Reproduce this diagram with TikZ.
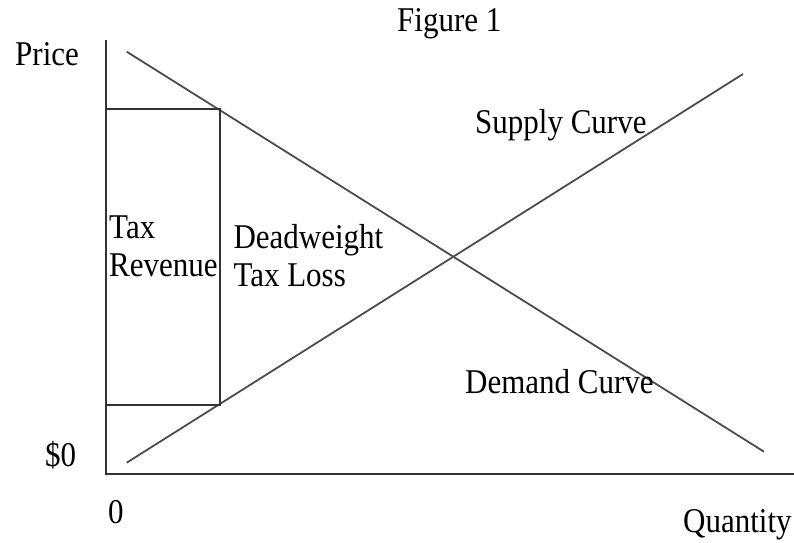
\documentclass[tikz,border=0pt]{standalone}
\usepackage{fontspec}
\setmainfont{Liberation Serif}
\usepackage{graphicx}
\usetikzlibrary{positioning}

\newcommand{\tall}[1]{\scalebox{1}[1.12]{#1}}

\begin{document}
\begin{tikzpicture}[
  x=1pt, y=-1pt,
  font=\fontsize{31}{38}\selectfont,
  lbl/.style={inner sep=0pt, anchor=base west},
  axis/.style={line width=2pt, black!80},
  curve/.style={line width=1.8pt, black!70},
  taxbox/.style={line width=1.9pt, black!80}
]
\useasboundingbox (0,0) rectangle (794,542);

% axes
\coordinate (origin) at (106,474);
\coordinate (ytop) at (106,40);
\coordinate (xend) at (794,474);
\draw[axis] (ytop) -- (origin) -- (xend);

% demand and supply
\coordinate (dem0) at (126.7,51.7);
\coordinate (dem1) at (764,451.7);
\coordinate (sup0) at (126.7,462.7);
\coordinate (sup1) at (743,74);
\draw[curve] (dem0) -- (dem1);
\draw[curve] (sup0) -- (sup1);

% tax revenue box
\coordinate (boxtl) at (106,108.7);
\coordinate (boxbr) at (220,404.7);
\draw[taxbox] (boxtl) rectangle (boxbr);

% labels
\node[lbl] (title) at (397,31.7) {\tall{Figure 1}};
\node[lbl] (price) at (15,65) {\tall{Price}};
\node[lbl] (zero) at (45,466.7) {\tall{\$0}};
\node[lbl] (qzero) at (108,523) {\tall{0}};
\node[lbl] (qty) at (683,532) {\tall{Quantity}};
\node[lbl] (supply) at (475,133.3) {\tall{Supply Curve}};
\node[lbl] (demand) at (465,393.3) {\tall{Demand Curve}};
\node[lbl, align=left] (revenue) at (109,276) {\tall{Tax}\\\tall{Revenue}};
\node[lbl, align=left] (dwl) at (233.3,286.3) {\tall{Deadweight}\\\tall{Tax Loss}};
\end{tikzpicture}
\end{document}
